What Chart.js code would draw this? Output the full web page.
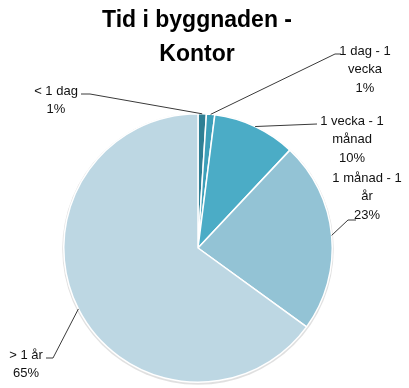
<!DOCTYPE html>
<html>
<head>
<meta charset="utf-8">
<script src="https://cdn.jsdelivr.net/npm/chart.js@4"></script>
<style>
  html, body { margin: 0; padding: 0; background: #fff; }
  #wrap { width: 409px; height: 388px; }
</style>
</head>
<body>
<div id="wrap"><canvas id="chart-pie"></canvas></div>
<script>
// time spent in the building, office
const categories = ['< 1 dag', '1 dag - 1 vecka', '1 vecka - 1 månad', '1 månad - 1 år', '> 1 år'];
const shares = [1, 1, 10, 23, 65];
const sliceColors = ['#2f7f94', '#3d9fb9', '#4bacc6', '#93c3d5', '#bdd7e3'];
const titleLines = ['Tid i byggnaden -', 'Kontor'];

// label text broken into lines, with where each block sits and how its leader line bends
const labelLines = [
    ['< 1 dag', '1%'],
    ['1 dag - 1', 'vecka', '1%'],
    ['1 vecka - 1', 'månad', '10%'],
    ['1 månad - 1', 'år', '23%'],
    ['> 1 år', '65%'],
];
const labelBoxes = [
    { x: 56, y: 91, path: [[90, 94], [81, 94]] },
    { x: 365, y: 51, path: [[335, 54], [341, 54]] },
    { x: 352, y: 121, path: [[317, 124]] },
    { x: 367, y: 178, path: [[348, 220], [356, 220]] },
    { x: 26, y: 355, path: [[53, 358], [46, 358]] },
];

const FONT = '"Liberation Sans", Arial, sans-serif';

const pieDecor = {
    id: 'pieDecor',
    beforeDatasetsDraw(chart) {
        const arc = chart.getDatasetMeta(0).data[0];
        if (!arc) return;
        const ctx = chart.ctx;
        ctx.save();
        ctx.beginPath();
        ctx.arc(arc.x, arc.y + 1, arc.outerRadius + 1.5, 0, Math.PI * 2);
        ctx.fillStyle = 'rgba(0,0,0,0.12)';
        ctx.fill();
        ctx.restore();
    },
    afterDatasetsDraw(chart) {
        const ctx = chart.ctx;
        const arcs = chart.getDatasetMeta(0).data;
        ctx.save();

        // title
        ctx.fillStyle = '#000';
        ctx.textAlign = 'center';
        ctx.textBaseline = 'middle';
        ctx.font = 'bold 23px ' + FONT;
        titleLines.forEach((t, i) => ctx.fillText(t, 197, 21 + i * 34));

        // leader lines from the middle of each slice's rim
        ctx.strokeStyle = '#3a3a3a';
        ctx.lineWidth = 1;
        arcs.forEach((a, i) => {
            const mid = (a.startAngle + a.endAngle) / 2;
            const ax = a.x + Math.cos(mid) * a.outerRadius;
            const ay = a.y + Math.sin(mid) * a.outerRadius;
            ctx.beginPath();
            ctx.moveTo(ax, ay);
            labelBoxes[i].path.forEach(p => ctx.lineTo(p[0], p[1]));
            ctx.stroke();
        });

        // label text: category name then share
        ctx.font = '13px ' + FONT;
        ctx.fillStyle = '#111';
        labelLines.forEach((lines, i) => {
            const box = labelBoxes[i];
            lines.forEach((t, j) => ctx.fillText(t, box.x, box.y + j * 18.5));
        });
        ctx.restore();
    }
};

new Chart(document.getElementById('chart-pie'), {
    type: 'pie',
    data: {
        labels: categories,
        datasets: [{
            data: shares,
            backgroundColor: sliceColors,
            borderColor: '#ffffff',
            borderWidth: 1.5,
        }]
    },
    options: {
        responsive: true,
        maintainAspectRatio: false,
        animation: false,
        layout: { padding: { left: 63, right: 76, top: 113, bottom: 5 } },
        plugins: {
            legend: { display: false },
            title: { display: false },
            tooltip: { enabled: false }
        }
    },
    plugins: [pieDecor]
});
</script>
</body>
</html>
